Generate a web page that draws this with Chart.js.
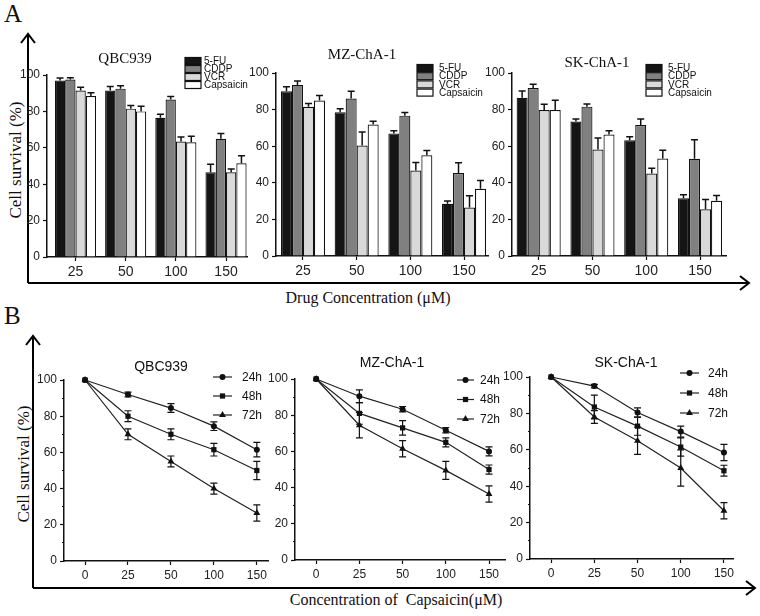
<!DOCTYPE html>
<html>
<head>
<meta charset="utf-8">
<title>Cell survival</title>
<script src="https://cdn.jsdelivr.net/npm/chart.js@4.4.1/dist/chart.umd.min.js"></script>
<style>
  html, body { margin: 0; padding: 0; background: #fff; }
  #page { position: relative; width: 760px; height: 616px; overflow: hidden; background: #fff; }
  #page canvas { position: absolute; }
  .serif { position: absolute; font-family: 'Liberation Serif', 'Times New Roman', serif; color: #111; white-space: pre; line-height: 1; }
  .ylab { transform: translate(-50%, -50%) rotate(-90deg); }
</style>
</head>
<body>
<div id="page">
  <svg width="760" height="616" style="position:absolute;left:0;top:0" fill="none" stroke="#000" stroke-width="2">
    <polyline points="28,283 28,34" />
    <polyline points="21,43 28,34 35,43" />
    <polyline points="28,283 749,283" />
    <polyline points="740,276 749,283 740,290" />
    <polyline points="33,588 33,336" />
    <polyline points="26,345 33,336 40,345" />
    <polyline points="33,588 755,588" />
    <polyline points="746,581 755,588 746,595" />
  </svg>
  <div class="serif" style="left:4px;top:1px;font-size:25px">A</div>
  <div class="serif" style="left:4px;top:303px;font-size:25px">B</div>
  <div class="serif ylab" style="left:15px;top:160px;font-size:17px">Cell survival (%)</div>
  <div class="serif ylab" style="left:23px;top:464px;font-size:17px">Cell survival (%)</div>
  <div class="serif" style="left:218px;width:300px;text-align:center;top:290px;font-size:16px">Drug Concentration (μM)</div>
  <div class="serif" style="left:246px;width:300px;text-align:center;top:592px;font-size:16px">Concentration of  Capsaicin(μM)</div>
</div>
<script>
// ---- panel A: survival after each drug (rows follow drugNames) ----
const drugConcs = ['25', '50', '100', '150'];
const drugNames = ['5-FU', 'CDDP', 'VCR', 'Capsaicin'];

const qbc939Drug = [
  [97, 91.5, 76.5, 46.5],
  [97.5, 92.5, 86.5, 65],
  [91.5, 81.5, 63.5, 46.5],
  [88.5, 80, 63, 51.5]
];
const qbc939DrugErr = [
  [1.4, 2.2, 1.9, 4.4],
  [1, 1.6, 1.7, 2.9],
  [1.8, 1.8, 2.5, 1.9],
  [1.7, 2.8, 3.4, 4.2]
];
const mzcha1Drug = [
  [90, 78.5, 67, 28.5],
  [93.5, 86, 76.7, 45.3],
  [81.5, 60.4, 46.7, 26.5],
  [85, 71.8, 55, 36.7]
];
const mzcha1DrugErr = [
  [2.5, 1.9, 1.5, 1.5],
  [2.1, 4, 1.7, 5.6],
  [1.8, 7.4, 4.4, 6.4],
  [2.7, 1.8, 2.7, 4.6]
];
const skcha1Drug = [
  [86.5, 73.5, 63.3, 31.6],
  [91.8, 81.6, 71.6, 53.1],
  [79.8, 58.2, 45.1, 25.5],
  [79.8, 66.4, 53.3, 30.2]
];
const skcha1DrugErr = [
  [3.7, 1.4, 1.8, 1.9],
  [2, 1.5, 3.3, 10.4],
  [3.1, 6.3, 2.9, 5.4],
  [5.3, 2, 4.5, 2.9]
];

// ---- panel B: capsaicin over time (rows follow timePoints) ----
const capsConcs = ['0', '25', '50', '100', '150'];
const timePoints = ['24h', '48h', '72h'];

const qbc939Time = [
  [100, 92, 84.5, 74.5, 61.5],
  [100, 80, 70, 61.5, 50],
  [100, 70, 55, 40, 26.5]
];
const qbc939TimeErr = [
  [0, 1.3, 2.4, 2.4, 4],
  [0, 3, 3, 3.5, 5],
  [0, 3, 3, 3, 4.5]
];
const mzcha1Time = [
  [100, 90.5, 83.3, 71.7, 60],
  [100, 81, 73, 65, 50],
  [100, 74.5, 61.5, 49.5, 36.5]
];
const mzcha1TimeErr = [
  [0, 3.5, 1.5, 1.5, 2.5],
  [0, 6, 4, 2.5, 2.5],
  [0, 7, 4.5, 5, 4.5]
];
const skcha1Time = [
  [100, 95, 80.5, 70, 58.5],
  [100, 83.5, 73, 61.5, 48.5],
  [100, 78, 65, 50, 26.5]
];
const skcha1TimeErr = [
  [0, 1, 2.5, 3, 4.5],
  [0, 6.5, 5, 5, 3],
  [0, 3.5, 7.5, 10, 4.5]
];

// styles
const barFills = ['#151515', '#808080', '#d9d9d9', '#ffffff'];
const markers = [
  { style: 'circle', r: 3 },
  { style: 'rect', r: 3.7 },
  { style: 'triangle', r: 4 }
];
const INK = '#111';
const sansFont = '"Liberation Sans", Arial, sans-serif';
const narrowFont = '"Liberation Sans Narrow", "Arial Narrow", "Liberation Sans", sans-serif';

const page = document.getElementById('page');
const YW = 40, XH = 26, PT = 48, PR = 12;

function addCanvas(area) {
  const c = document.createElement('canvas');
  const w = area.r - area.l + YW + PR;
  const h = area.b - area.t + PT + XH;
  c.width = w; c.height = h;
  c.style.left = (area.l - YW) + 'px';
  c.style.top = (area.t - PT) + 'px';
  c.style.width = w + 'px';
  c.style.height = h + 'px';
  page.appendChild(c);
  return c;
}

function drawMarker(ctx, style, x, y, r) {
  ctx.beginPath();
  if (style === 'circle') {
    ctx.arc(x, y, r, 0, Math.PI * 2);
  } else if (style === 'rect') {
    const s = r * Math.SQRT1_2;
    ctx.rect(x - s, y - s, 2 * s, 2 * s);
  } else {
    const a = 2 * Math.PI / 3;
    ctx.moveTo(x, y - r);
    ctx.lineTo(x + r * Math.sin(a), y - r * Math.cos(a));
    ctx.lineTo(x + r * Math.sin(2 * a), y - r * Math.cos(2 * a));
    ctx.closePath();
  }
  ctx.fill();
}

// error bars from each dataset's `errors` array
const errorBars = {
  id: 'errorBars',
  afterDatasetsDraw(chart, args, opts) {
    const ctx = chart.ctx;
    const yScale = chart.scales.y;
    chart.data.datasets.forEach((ds, i) => {
      if (!ds.errors) return;
      const meta = chart.getDatasetMeta(i);
      ctx.save();
      ctx.strokeStyle = INK;
      ctx.lineWidth = opts.width;
      meta.data.forEach((el, j) => {
        const e = ds.errors[j];
        if (!e) return;
        const v = ds.data[j].y;
        const x = el.x;
        const top = yScale.getPixelForValue(v + e);
        const bottom = opts.upOnly ? el.y : yScale.getPixelForValue(v - e);
        ctx.beginPath();
        ctx.moveTo(x, top); ctx.lineTo(x, bottom);
        ctx.moveTo(x - opts.cap, top); ctx.lineTo(x + opts.cap, top);
        if (!opts.upOnly) { ctx.moveTo(x - opts.cap, bottom); ctx.lineTo(x + opts.cap, bottom); }
        ctx.stroke();
      });
      ctx.restore();
    });
  }
};

// title and legend at fixed page positions
const decor = {
  id: 'decor',
  afterDraw(chart, args, o) {
    const ctx = chart.ctx;
    ctx.save();
    ctx.fillStyle = INK;
    ctx.font = o.titleFont;
    ctx.textAlign = 'center';
    ctx.textBaseline = 'middle';
    ctx.fillText(o.title, o.titleX - o.ox, o.titleY - o.oy);
    ctx.font = o.legendFont;
    ctx.textAlign = 'left';
    chart.data.datasets.forEach((ds, i) => {
      const cy = o.legendY + i * o.legendDy - o.oy;
      if (o.kind === 'box') {
        const bx = o.boxX - o.ox;
        ctx.fillStyle = ds.backgroundColor;
        ctx.fillRect(bx, cy - 3.5, 16, 7);
        ctx.strokeStyle = INK;
        ctx.lineWidth = 1.2;
        ctx.strokeRect(bx, cy - 3.5, 16, 7);
      } else {
        const x1 = o.lineX1 - o.ox, x2 = o.lineX2 - o.ox;
        ctx.strokeStyle = '#222';
        ctx.lineWidth = 1.2;
        ctx.beginPath(); ctx.moveTo(x1, cy); ctx.lineTo(x2, cy); ctx.stroke();
        ctx.fillStyle = INK;
        drawMarker(ctx, ds.pointStyle, (x1 + x2) / 2, cy, ds.pointRadius);
      }
      ctx.fillStyle = INK;
      ctx.fillText(ds.label, o.textX - o.ox, cy + 0.5);
    });
    ctx.restore();
  }
};

function axisX(cfg, labels, font) {
  return {
    type: 'linear', bounds: 'data', offset: false,
    min: cfg.xMin, max: cfg.xMax,
    afterBuildTicks: s => { s.ticks = labels.map((l, i) => ({ value: i })); },
    afterFit: s => { s.height = XH; },
    ticks: { callback: v => labels[v], font, color: '#222', padding: 3, maxRotation: 0, autoSkip: false },
    grid: { drawOnChartArea: false, offset: false, tickLength: 4, tickColor: INK, tickWidth: 1.2 },
    border: { color: INK, width: 1.5 }
  };
}

function buildBar(cfg) {
  const canvas = addCanvas(cfg.area);
  return new Chart(canvas, {
    type: 'bar',
    data: {
      datasets: drugNames.map((name, k) => ({
        label: name,
        data: cfg.means[k].map((v, i) => ({ x: i, y: v })),
        errors: cfg.errs[k],
        backgroundColor: barFills[k],
        borderColor: INK,
        borderWidth: 1.2,
        categoryPercentage: 0.82,
        barPercentage: 1
      }))
    },
    options: {
      responsive: false, animation: false, devicePixelRatio: 1,
      layout: { padding: { top: PT, right: PR, left: 0, bottom: 0 } },
      plugins: {
        legend: { display: false }, tooltip: { enabled: false },
        errorBars: { upOnly: true, cap: 3.5, width: 1.5 },
        decor: Object.assign({
          ox: cfg.area.l - YW, oy: cfg.area.t - PT, kind: 'box', title: cfg.title,
          titleFont: '15px "Liberation Serif", serif', legendFont: '10px ' + sansFont, legendDy: 8.2
        }, cfg.pos)
      },
      scales: {
        x: axisX(cfg, drugConcs, { family: narrowFont, size: 14 }),
        y: {
          min: 0, max: 100,
          afterFit: s => { s.width = YW; },
          ticks: { stepSize: 20, font: { family: sansFont, size: 12 }, color: '#222', padding: 3 },
          grid: { drawOnChartArea: false, tickLength: 4, tickColor: INK, tickWidth: 1.2 },
          border: { color: INK, width: 1.5 }
        }
      }
    },
    plugins: [errorBars, decor]
  });
}

function buildLine(cfg) {
  const canvas = addCanvas(cfg.area);
  return new Chart(canvas, {
    type: 'line',
    data: {
      datasets: timePoints.map((name, k) => ({
        label: name,
        data: cfg.means[k].map((v, i) => ({ x: i, y: v })),
        errors: cfg.errs[k],
        borderColor: '#222',
        borderWidth: 1.2,
        pointStyle: markers[k].style,
        pointRadius: markers[k].r,
        pointBackgroundColor: INK,
        pointBorderWidth: 0,
        tension: 0,
        fill: false,
        clip: false
      }))
    },
    options: {
      responsive: false, animation: false, devicePixelRatio: 1,
      layout: { padding: { top: PT, right: PR, left: 0, bottom: 0 } },
      plugins: {
        legend: { display: false }, tooltip: { enabled: false },
        errorBars: { upOnly: false, cap: 3.5, width: 1.2 },
        decor: Object.assign({
          ox: cfg.area.l - YW, oy: cfg.area.t - PT, kind: 'line', title: cfg.title,
          titleFont: '14px ' + sansFont, legendFont: '12px ' + sansFont
        }, cfg.pos)
      },
      scales: {
        x: axisX(cfg, capsConcs, { family: sansFont, size: 12 }),
        y: {
          min: 0, max: 100,
          afterFit: s => { s.width = YW; },
          ticks: {
            stepSize: 10, font: { family: sansFont, size: 12 }, color: '#222', padding: 3,
            callback: v => (v % 20 === 0 ? v : '')
          },
          grid: {
            drawOnChartArea: false, tickLength: 4, tickColor: INK, tickWidth: 1.2,
            tickBorderDash: c => (c.tick && c.tick.value % 20 !== 0 ? [2, 2] : []),
            tickBorderDashOffset: c => (c.tick && c.tick.value % 20 !== 0 ? 2 : 0)
          },
          border: { color: INK, width: 1.5 }
        }
      }
    },
    plugins: [errorBars, decor]
  });
}

buildBar({
  area: { l: 47, t: 75, r: 247, b: 257 }, xMin: -0.568, xMax: 3.418,
  means: qbc939Drug, errs: qbc939DrugErr, title: 'QBC939',
  pos: { titleX: 125, titleY: 59, boxX: 185, textX: 204, legendY: 61, legendDy: 8 }
});
buildBar({
  area: { l: 276, t: 73, r: 488, b: 256 }, xMin: -0.503, xMax: 3.447,
  means: mzcha1Drug, errs: mzcha1DrugErr, title: 'MZ-ChA-1',
  pos: { titleX: 362, titleY: 55, boxX: 417, textX: 439, legendY: 68 }
});
buildBar({
  area: { l: 512, t: 73, r: 726, b: 256 }, xMin: -0.496, xMax: 3.483,
  means: skcha1Drug, errs: skcha1DrugErr, title: 'SK-ChA-1',
  pos: { titleX: 597, titleY: 63, boxX: 646, textX: 668, legendY: 68 }
});

buildLine({
  area: { l: 64, t: 380, r: 268, b: 561 }, xMin: -0.49, xMax: 4.26,
  means: qbc939Time, errs: qbc939TimeErr, title: 'QBC939',
  pos: { titleX: 161, titleY: 367, lineX1: 213, lineX2: 232, textX: 242, legendY: 377, legendDy: 19 }
});
buildLine({
  area: { l: 295, t: 379, r: 505, b: 560 }, xMin: -0.49, xMax: 4.37,
  means: mzcha1Time, errs: mzcha1TimeErr, title: 'MZ-ChA-1',
  pos: { titleX: 392, titleY: 363, lineX1: 457, lineX2: 474, textX: 480, legendY: 380, legendDy: 19.5 }
});
buildLine({
  area: { l: 530, t: 377, r: 733, b: 559 }, xMin: -0.49, xMax: 4.21,
  means: skcha1Time, errs: skcha1TimeErr, title: 'SK-ChA-1',
  pos: { titleX: 626, titleY: 363, lineX1: 680, lineX2: 699, textX: 708, legendY: 373, legendDy: 20 }
});
</script>
</body>
</html>
